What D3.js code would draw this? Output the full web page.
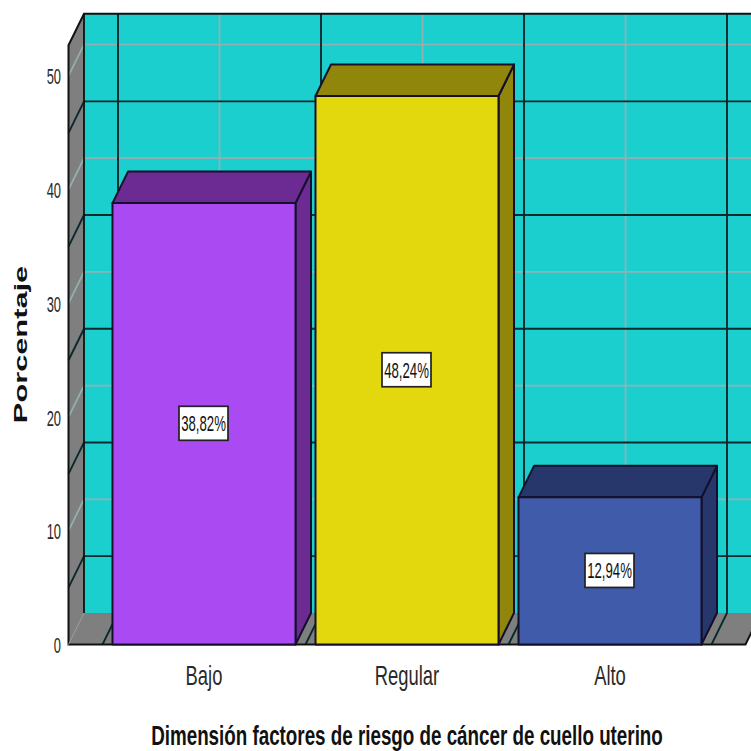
<!DOCTYPE html>
<html lang="es">
<head>
<meta charset="utf-8">
<style>
html,body{margin:0;padding:0;background:#fff;overflow:hidden}
svg{display:block}
text{font-family:"Liberation Sans",Arial,sans-serif}
</style>
<script src="https://cdn.jsdelivr.net/npm/d3@7"></script>
</head>
<body>
<svg id="chart" width="751" height="751"></svg>
<script>
// Risk factor levels and their share of respondents
const categories = ["Bajo", "Regular", "Alto"];
const percentages = [38.82, 48.24, 12.94];
const percentLabels = ["38,82%", "48,24%", "12,94%"];
const majorTicks = [0, 10, 20, 30, 40, 50];
const minorTicks = [5, 15, 25, 35, 45];
const faceColors = ["#aa4af2", "#e3d80e", "#3f5ba9"];
const shadeColors = ["#6b2b92", "#8f860b", "#27376b"];
const yAxisTitle = "Porcentaje";
const xAxisTitle = "Dimensión factores de riesgo de cáncer de cuello uterino";

const svg = d3.select("#chart");
const depthX = 15.5, depthY = -31.5;
const frontLeft = 68.5, frontRight = 745.5;

const y = d3.scaleLinear().domain([0, 52.7]).range([644.5, 45.3]);
const x = d3.scaleBand().domain(categories).range([102.5, 711.5])
  .paddingInner(20 / 203).paddingOuter(10 / 203);
const step = x.step();
const edges = d3.range(categories.length + 1).map(i => 102.5 + i * step);
const centers = categories.map(c => x(c) + x.bandwidth() / 2);

const poly = pts => pts.map(p => p.join(",")).join(" ");
const back = ([px, py]) => [px + depthX, py + depthY];
const yTop = y.domain()[1], yBase = y(0);

// Back wall, side wall and floor of the box
svg.append("rect")
  .attr("x", frontLeft + depthX).attr("y", y(yTop) + depthY)
  .attr("width", frontRight - frontLeft).attr("height", yBase - y(yTop))
  .attr("fill", "#1ccfcf");
svg.append("polygon")
  .attr("points", poly([[frontLeft, yBase], [frontLeft, y(yTop)], back([frontLeft, y(yTop)]), back([frontLeft, yBase])]))
  .attr("fill", "#7f7f7f");
svg.append("polygon")
  .attr("points", poly([[frontLeft, yBase], [frontRight, yBase], back([frontRight, yBase]), back([frontLeft, yBase])]))
  .attr("fill", "#7f7f7f");

// Gridlines wrap from the side wall across the back wall
const gridGray = "#93b1b3", gridBlack = "#0a2a2e";
function horizontalGrid(values, color, width) {
  values.forEach(v => {
    svg.append("polyline")
      .attr("points", poly([[frontLeft, y(v)], back([frontLeft, y(v)]), back([frontRight, y(v)])]))
      .attr("fill", "none").attr("stroke", color).attr("stroke-width", width);
  });
}
function verticalGrid(xs, color, width) {
  xs.forEach(px => {
    svg.append("polyline")
      .attr("points", poly([[px, yBase], back([px, yBase]), back([px, y(yTop)])]))
      .attr("fill", "none").attr("stroke", color).attr("stroke-width", width);
  });
}
horizontalGrid(majorTicks.slice(1), gridGray, 1.7);
verticalGrid(centers, gridGray, 1.7);
horizontalGrid(minorTicks, gridBlack, 1.9);
verticalGrid(edges, gridBlack, 1.9);

// Outline of the box
svg.append("polyline")
  .attr("points", poly([back([frontRight, y(yTop)]), back([frontLeft, y(yTop)]), [frontLeft, y(yTop)], [frontLeft, yBase], [frontRight, yBase], back([frontRight, yBase])]))
  .attr("fill", "none").attr("stroke", "#111").attr("stroke-width", 2);
svg.append("line")
  .attr("x1", back([frontLeft, 0])[0]).attr("x2", back([frontLeft, 0])[0])
  .attr("y1", back([0, y(yTop)])[1]).attr("y2", back([0, yBase])[1])
  .attr("stroke", "#111").attr("stroke-width", 1.8);
svg.append("line")
  .attr("x1", frontLeft).attr("y1", yBase).attr("x2", back([frontLeft, yBase])[0]).attr("y2", back([frontLeft, yBase])[1])
  .attr("stroke", "#999").attr("stroke-width", 1);

// Extruded bars
const bars = svg.append("g").selectAll("g").data(categories).join("g");
const stroke = { stroke: "#14102a", width: 2 };
bars.each(function (c, i) {
  const g = d3.select(this);
  const x0 = x(c), x1 = x0 + x.bandwidth();
  const top = y(percentages[i]);
  g.append("polygon")
    .attr("points", poly([[x1, yBase], [x1, top], back([x1, top]), back([x1, yBase])]))
    .attr("fill", shadeColors[i]);
  g.append("polygon")
    .attr("points", poly([[x0, top], [x1, top], back([x1, top]), back([x0, top])]))
    .attr("fill", shadeColors[i]);
  g.append("rect")
    .attr("x", x0).attr("y", top).attr("width", x1 - x0).attr("height", yBase - top)
    .attr("fill", faceColors[i]);
  g.selectAll("polygon,rect")
    .attr("stroke", stroke.stroke).attr("stroke-width", stroke.width).attr("stroke-linejoin", "round");
});

// White value tags centred on each bar's face
const tagW = 49, tagH = 34;
const tags = svg.append("g").selectAll("g").data(categories).join("g")
  .attr("transform", (c, i) => `translate(${x(c) + x.bandwidth() / 2 - 0.5},${(y(percentages[i]) + yBase) / 2 - 0.5})`);
tags.append("rect")
  .attr("x", -tagW / 2).attr("y", -tagH / 2).attr("width", tagW).attr("height", tagH)
  .attr("fill", "#fff").attr("stroke", "#222").attr("stroke-width", 1.7);
tags.append("text")
  .attr("text-anchor", "middle")
  .attr("transform", "translate(0,8) scale(0.88,1.42)")
  .attr("font-size", 15).attr("fill", "#111")
  .text((c, i) => percentLabels[i]);

// Value axis labels on the front edge of the side wall
svg.append("g").selectAll("text").data(majorTicks).join("text")
  .attr("text-anchor", "end")
  .attr("transform", d => `translate(61,${y(d) + 8.5}) scale(0.86,1.45)`)
  .attr("font-size", 15).attr("fill", "#2a2a2a")
  .text(d => d);

// Category labels
svg.append("g").selectAll("text").data(categories).join("text")
  .attr("text-anchor", "middle")
  .attr("transform", c => `translate(${x(c) + x.bandwidth() / 2},684.5) scale(0.92,1.38)`)
  .attr("font-size", 20).attr("fill", "#2a2a2a")
  .text(c => c);

// Axis titles
svg.append("text")
  .attr("text-anchor", "middle")
  .attr("transform", "translate(27,344.5) rotate(-90) scale(1.71,1.02)")
  .attr("font-size", 18).attr("font-weight", "bold").attr("fill", "#111")
  .text(yAxisTitle);
svg.append("text")
  .attr("text-anchor", "middle")
  .attr("transform", "translate(407,745) scale(0.94,1.35)")
  .attr("font-size", 20).attr("font-weight", "bold").attr("fill", "#111")
  .text(xAxisTitle);
</script>
</body>
</html>
